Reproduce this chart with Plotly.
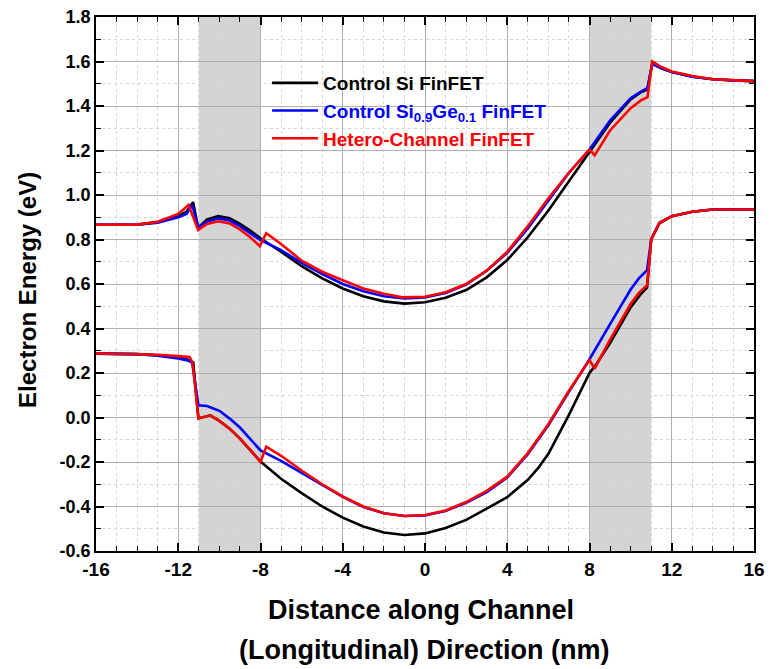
import plotly.graph_objects as go

# ---------------- data ----------------
# Conduction band (upper curves)
si_cb_x = [-16, -14, -13, -12, -11.6, -11.28, -11.03, -10.6, -10.05, -9.5, -9, -8.5, -8, -7, -6, -5, -4, -3, -2, -1, 0, 1, 2, 3, 4, 5, 6, 7, 8, 9, 10, 10.5, 10.82, 11.05, 11.5, 12, 13, 14, 15, 16]
si_cb_y = [0.866, 0.867, 0.878, 0.905, 0.925, 0.968, 0.853, 0.89, 0.905, 0.895, 0.87, 0.84, 0.805, 0.745, 0.68, 0.625, 0.58, 0.545, 0.522, 0.512, 0.518, 0.538, 0.573, 0.63, 0.708, 0.81, 0.93, 1.06, 1.195, 1.325, 1.43, 1.462, 1.475, 1.59, 1.57, 1.553, 1.532, 1.52, 1.515, 1.512]

sige_cb_x = [-16, -14, -13, -12, -11.6, -11.32, -11.03, -10.6, -10.05, -9.5, -9, -8.5, -8, -7, -6, -5, -4, -3, -2, -1, 0, 1, 2, 3, 4, 5, 6, 7, 8, 9, 10, 10.5, 10.82, 11.05, 11.5, 12, 13, 14, 15, 16]
sige_cb_y = [0.866, 0.867, 0.875, 0.9, 0.915, 0.955, 0.855, 0.88, 0.895, 0.885, 0.86, 0.83, 0.797, 0.752, 0.695, 0.645, 0.60, 0.567, 0.545, 0.535, 0.54, 0.56, 0.597, 0.66, 0.74, 0.85, 0.975, 1.10, 1.205, 1.335, 1.435, 1.465, 1.48, 1.59, 1.57, 1.553, 1.532, 1.52, 1.515, 1.512]

het_cb_x = [-16, -14, -13, -12, -11.5, -11.03, -10.6, -10.05, -9.5, -9, -8.5, -8.03, -7.72, -7, -6, -5, -4, -3, -2, -1.1, 0, 1, 2, 3, 4, 5, 6, 7, 8.0, 8.25, 9, 10, 10.5, 10.82, 11.05, 11.5, 12, 13, 14, 15, 16]
het_cb_y = [0.866, 0.867, 0.88, 0.915, 0.955, 0.843, 0.87, 0.882, 0.872, 0.845, 0.81, 0.77, 0.828, 0.78, 0.705, 0.655, 0.617, 0.58, 0.556, 0.54, 0.543, 0.563, 0.60, 0.66, 0.745, 0.86, 0.985, 1.10, 1.205, 1.178, 1.29, 1.39, 1.425, 1.44, 1.60, 1.575, 1.555, 1.535, 1.52, 1.515, 1.512]

# Valence band (lower curves)
si_vb_x = [-16, -14, -13, -12, -11.6, -11.27, -11.02, -10.45, -10, -9.5, -9, -8.5, -8, -7, -6, -5, -4, -3, -2, -1, 0, 1, 2, 3, 4, 5, 5.5, 6, 6.5, 7, 8, 8.3, 9, 9.5, 10, 10.5, 10.8, 11.0, 11.4, 12, 13, 14, 16]
si_vb_y = [0.287, 0.285, 0.28, 0.27, 0.262, 0.248, -0.004, 0.01, -0.015, -0.05, -0.095, -0.145, -0.198, -0.275, -0.34, -0.40, -0.45, -0.49, -0.517, -0.528, -0.521, -0.497, -0.46, -0.41, -0.358, -0.28, -0.228, -0.163, -0.078, 0.012, 0.2, 0.235, 0.335, 0.415, 0.495, 0.555, 0.585, 0.80, 0.873, 0.905, 0.925, 0.935, 0.935]

sige_vb_x = [-16, -14, -13, -12, -11.5, -11.32, -11.02, -10.6, -10, -9.5, -9, -8.5, -8, -7, -6, -5, -4, -3, -2, -1, 0, 1, 2, 3, 4, 5, 6, 7, 8, 9, 9.5, 10, 10.4, 10.8, 11.0, 11.4, 12, 13, 14, 16]
sige_vb_y = [0.287, 0.285, 0.278, 0.265, 0.255, 0.245, 0.055, 0.052, 0.03, -0.005, -0.045, -0.095, -0.148, -0.195, -0.25, -0.305, -0.357, -0.402, -0.43, -0.443, -0.44, -0.42, -0.383, -0.335, -0.27, -0.165, -0.035, 0.115, 0.262, 0.42, 0.495, 0.575, 0.625, 0.662, 0.80, 0.875, 0.905, 0.925, 0.935, 0.935]

het_vb_x = [-16, -14, -13, -12, -11.45, -11.3, -11.02, -10.45, -10, -9.5, -9, -8.5, -8.0, -7.72, -7, -6, -5, -4, -3, -2, -1, 0, 1, 2, 3, 4, 5, 6, 7, 8.0, 8.25, 9, 9.5, 10, 10.4, 10.8, 11.0, 11.4, 12, 13, 14, 16]
het_vb_y = [0.288, 0.286, 0.282, 0.276, 0.272, 0.245, -0.004, 0.01, -0.015, -0.05, -0.095, -0.145, -0.2, -0.131, -0.172, -0.238, -0.30, -0.355, -0.40, -0.43, -0.443, -0.438, -0.418, -0.38, -0.33, -0.266, -0.16, -0.03, 0.12, 0.258, 0.22, 0.35, 0.43, 0.51, 0.56, 0.595, 0.80, 0.875, 0.905, 0.925, 0.935, 0.935]

series_names = [
    "<span style='color:#000000'>Control Si FinFET</span>",
    "<span style='color:#0000ff'>Control Si<sub>0.9</sub>Ge<sub>0.1</sub> FinFET</span>",
    "<span style='color:#ff0000'>Hetero-Channel FinFET</span>",
]
series_colors = ["#000000", "#0000ff", "#ff0000"]

gate_regions = [(-11, -8), (8, 11)]

x_ticks = [-16, -12, -8, -4, 0, 4, 8, 12, 16]
y_ticks = [-0.6, -0.4, -0.2, 0.0, 0.2, 0.4, 0.6, 0.8, 1.0, 1.2, 1.4, 1.6, 1.8]

x_title_lines = ["Distance along Channel", "(Longitudinal) Direction (nm)"]
y_title = "Electron Energy (eV)"

# ---------------- figure ----------------
fig = go.Figure()

curves = [
    (si_cb_x, si_cb_y, si_vb_x, si_vb_y),
    (sige_cb_x, sige_cb_y, sige_vb_x, sige_vb_y),
    (het_cb_x, het_cb_y, het_vb_x, het_vb_y),
]

for i, (cx, cy, vx, vy) in enumerate(curves):
    fig.add_trace(go.Scatter(
        x=cx + [None] + vx,
        y=cy + [None] + vy,
        mode="lines",
        name=series_names[i],
        line=dict(color=series_colors[i], width=2.6),
        connectgaps=False,
    ))

for x0, x1 in gate_regions:
    fig.add_shape(type="rect", xref="x", yref="paper", x0=x0, x1=x1, y0=0, y1=1,
                  fillcolor="#d4d4d4", line=dict(width=0), layer="below")

font_main = "Liberation Sans, Arial, sans-serif"

fig.update_layout(
    width=770, height=669,
    margin=dict(l=96, r=16, t=17, b=118, autoexpand=False),
    paper_bgcolor="white",
    plot_bgcolor="white",
    showlegend=True,
    legend=dict(
        x=0.26, y=0.912, xanchor="left", yanchor="top",
        bgcolor="rgba(0,0,0,0)",
        font=dict(family=font_main, size=19, weight="bold", color="black"),
        tracegroupgap=0,
        itemwidth=46,
    ),
)

# axis titles as annotations for exact placement
fig.add_annotation(text=x_title_lines[0], xref="paper", yref="paper", x=0.494, y=-0.1105,
                   showarrow=False, xanchor="center", yanchor="middle",
                   font=dict(family=font_main, size=27, weight="bold", color="black"))
fig.add_annotation(text=x_title_lines[1], xref="paper", yref="paper", x=0.499, y=-0.1854,
                   showarrow=False, xanchor="center", yanchor="middle",
                   font=dict(family=font_main, size=27, weight="bold", color="black"))
fig.add_annotation(text=y_title, xref="paper", yref="paper", x=-0.1033, y=0.489,
                   showarrow=False, xanchor="center", yanchor="middle", textangle=-90,
                   font=dict(family=font_main, size=24, weight="bold", color="black"))

fig.update_xaxes(
    range=[-16, 16],
    automargin=False,
    tickvals=x_ticks,
    ticktext=[str(v) for v in x_ticks],
    showline=True, linecolor="black", linewidth=1.6, mirror="allticks",
    ticks="inside", ticklen=8, tickwidth=1.6, tickcolor="black",
    tickfont=dict(family=font_main, size=19, weight="bold", color="black"),
    showgrid=True, gridcolor="#b0b0b0", gridwidth=1.2,
    zeroline=False,
    minor=dict(dtick=1, tick0=0, ticks="inside", ticklen=5, tickwidth=1.3, tickcolor="black",
               showgrid=True, gridcolor="#d6d6d6", griddash="dot", gridwidth=1),
)

fig.update_yaxes(
    range=[-0.6, 1.8],
    automargin=False,
    tickvals=y_ticks,
    ticktext=[f"{v:.1f}" for v in y_ticks],
    showline=True, linecolor="black", linewidth=1.6, mirror="allticks",
    ticks="inside", ticklen=8, tickwidth=1.6, tickcolor="black",
    tickfont=dict(family=font_main, size=18, weight="bold", color="black"),
    showgrid=True, gridcolor="#b0b0b0", gridwidth=1.2,
    zeroline=False,
    minor=dict(dtick=0.1, tick0=0, ticks="inside", ticklen=5, tickwidth=1.3, tickcolor="black",
               showgrid=True, gridcolor="#d6d6d6", griddash="dot", gridwidth=1),
)

fig.write_html(
    "out.html",
    config={"displayModeBar": False},
    post_script="document.body.style.margin='0px';document.body.style.overflow='hidden';",
)
